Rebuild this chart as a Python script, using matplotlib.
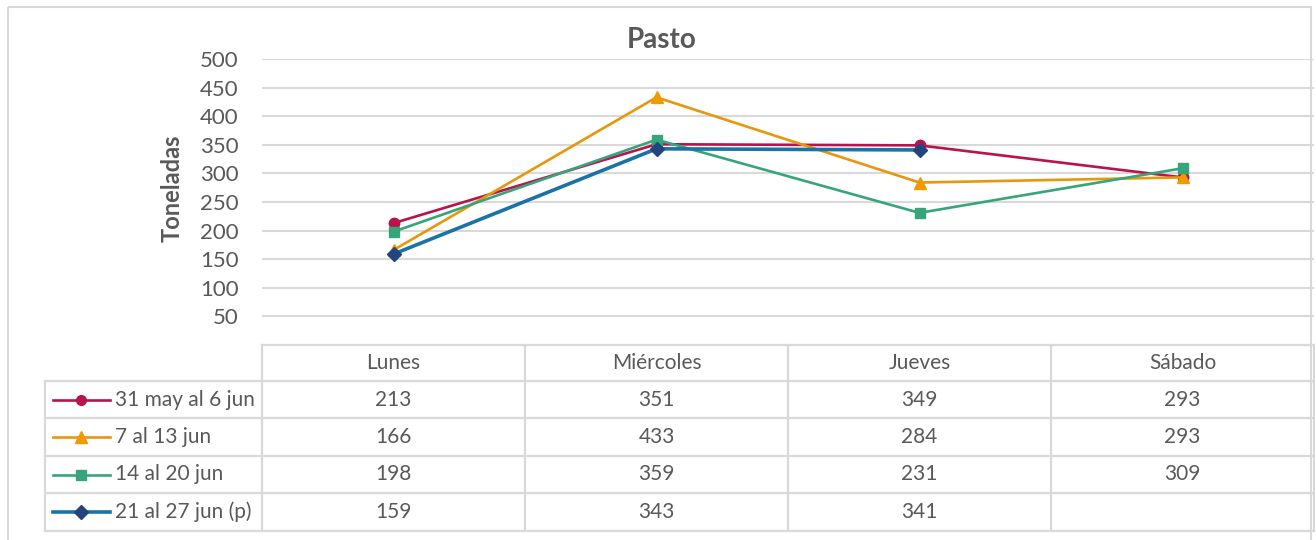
import matplotlib
matplotlib.use("Agg")
import matplotlib.pyplot as plt
import matplotlib.transforms as mtransforms
from matplotlib.patches import Rectangle
import numpy as np

# ---- data ----
categories = ["Lunes", "Miércoles", "Jueves", "Sábado"]
series_names = ["31 may al 6 jun", "7 al 13 jun", "14 al 20 jun", "21 al 27 jun (p)"]
s1 = [213, 351, 349, 293]
s2 = [166, 433, 284, 293]
s3 = [198, 359, 231, 309]
s4 = [159, 343, 341, None]
yticks = [50, 100, 150, 200, 250, 300, 350, 400, 450, 500]
title = "Pasto"
ylabel = "Toneladas"

# ---- style ----
colors = ["#B9134F", "#E8960C", "#37A57A", "#1A72A6"]
mcolors = ["#B9134F", "#F09A00", "#37A57A", "#23457D"]
markers = ["o", "^", "s", "D"]
msizes = [7.5, 8.5, 7.5, 7.5]
lws = [1.9, 1.9, 1.9, 2.6]
txt = "#595959"
gridc = "#D9D9D9"
plt.rcParams["font.family"] = ["Lato", "DejaVu Sans"]

W, H = 1316, 540
fig = plt.figure(figsize=(W / 100, H / 100), dpi=100)
bg = fig.add_axes([0, 0, 1, 1])
bg.set_xlim(0, W)
bg.set_ylim(H, 0)
bg.axis("off")
bg.add_patch(Rectangle((8, 7), 1303, 600, fill=False, ec=gridc, lw=1.5))

top_px, bot_px, left_px, right_px = 59, 345, 262, 1314
ax = fig.add_axes([left_px / W, 1 - bot_px / H, (right_px - left_px) / W, (bot_px - top_px) / H])
ax.set_facecolor("none")
ax.set_xlim(-0.5, len(categories) - 0.5)
ax.set_ylim(0, 500)
ax.set_yticks(yticks)
ax.set_xticks([])
ax.tick_params(axis="y", length=0, pad=17, labelsize=16, labelcolor=txt)
ax.grid(axis="y", color=gridc, lw=1.5)
ax.set_axisbelow(True)
for sp in ax.spines.values():
    sp.set_visible(False)

series = [s1, s2, s3, s4]
x = np.arange(len(categories))
for i, s in enumerate(series):
    y = np.array([np.nan if v is None else v for v in s], dtype=float)
    ax.plot(x, y, color=colors[i], lw=lws[i], marker=markers[i], ms=msizes[i],
            mfc=mcolors[i], mec=mcolors[i], zorder=3 + i, clip_on=False)

fig.text(662 / W, 1 - 40 / H, title, ha="center", va="center", fontsize=20,
         fontweight="bold", color=txt)
fig.text(172 / W, 1 - 188 / H, ylabel, ha="center", va="center", rotation=90,
         fontsize=17, fontweight="bold", color=txt)

# ---- data table ----
bt = mtransforms.blended_transform_factory(ax.transData, bg.transData)
header_top, header_bot = 345, 381
row_lines = [381, 418, 456, 493, 531]
legend_left = 45
bounds = [-0.5 + k for k in range(len(categories) + 1)]
lc = dict(color=gridc, lw=1.6, solid_capstyle="projecting")
fs = 15

# horizontal lines
bg.plot([left_px, right_px], [header_top, header_top], **lc)
for yl in row_lines:
    bg.plot([legend_left, right_px], [yl, yl], **lc)
# vertical lines
for b in bounds:
    bg.plot([b, b], [header_top, row_lines[-1]], transform=bt, **lc)
bg.plot([legend_left, legend_left], [row_lines[0], row_lines[-1]], **lc)

for j, c in enumerate(categories):
    bg.text(j, (header_top + header_bot) / 2, c, transform=bt, ha="center", va="center",
            fontsize=fs, color=txt)

for i, s in enumerate(series):
    yc = (row_lines[i] + row_lines[i + 1]) / 2
    bg.plot([53, 110], [yc, yc], color=colors[i], lw=lws[i])
    bg.plot([81], [yc], marker=markers[i], ms=msizes[i] - 0.5, mfc=mcolors[i], mec=mcolors[i],
            color=colors[i])
    bg.text(115, yc, series_names[i], ha="left", va="center", fontsize=fs, color=txt)
    for j, v in enumerate(s):
        if v is not None:
            bg.text(j, yc, str(v), transform=bt, ha="center", va="center",
                    fontsize=fs, color=txt)

fig.savefig("out.png", dpi=100)
